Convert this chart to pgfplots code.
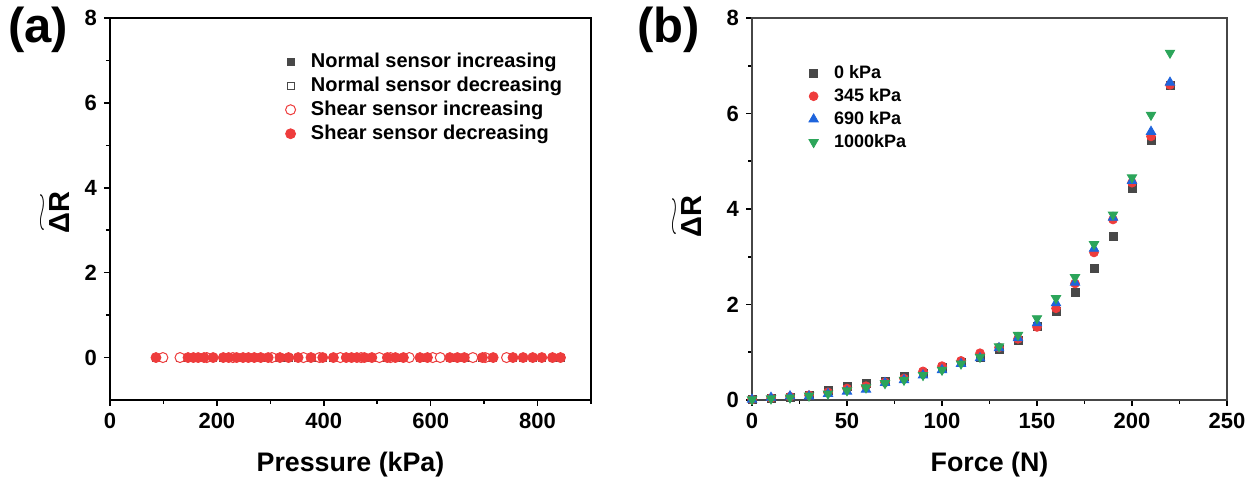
\documentclass[border=0pt]{standalone}
\usepackage{fontspec}
\setmainfont{Liberation Sans}
\usepackage{graphicx}
\usepackage{pgfplots}
\pgfplotsset{compat=1.18}
\definecolor{cgray}{RGB}{72,72,72}
\definecolor{cred}{RGB}{238,60,60}
\definecolor{cblue}{RGB}{30,100,220}
\definecolor{cgreen}{RGB}{44,165,90}
\definecolor{caxis}{RGB}{70,70,70}
\newbox\dRbox
\newdimen\dRwd
\newcommand{\dR}{\setbox\dRbox\hbox{ΔR}\dRwd=\wd\dRbox\vbox{\offinterlineskip\hbox to \dRwd{\resizebox{\dRwd}{3pt}{$\sim$}}\kern1.5pt\box\dRbox}}
\pgfplotsset{
  myaxis/.style={
    scale only axis, width=240.5pt, height=191pt,
    axis line style={line width=0.8pt},
    tick align=outside, xtick pos=bottom, ytick pos=left,
    major tick length=3pt, minor tick length=2pt,
    every tick/.style={line width=0.8pt},
    tick label style={font=\bfseries\fontsize{11}{13}\selectfont},
    /pgf/number format/assume math mode=true,
    label style={font=\bfseries\fontsize{13.4}{15}\selectfont},
    xlabel style={at={(axis description cs:0.5,0)}, anchor=center, yshift=-32.5pt},
    legend image code/.code={\path (-5pt,0pt) (5pt,0pt); \draw[##1] plot coordinates {(0pt,0pt)};},
    legend cell align=left,
  }
}
\begin{document}
\begin{tikzpicture}
\path[use as bounding box] (-55pt,-41pt) rectangle (572.5pt,200pt);
\begin{axis}[myaxis, at={(0pt,0pt)}, anchor=south west,
  xmin=0, xmax=900, ymin=-1, ymax=8,
  xtick={0,200,...,800}, minor xtick={100,300,...,900},
  ytick={0,2,...,8}, minor ytick={1,3,5,7},
  xlabel={Pressure (kPa)},
  ylabel={\dR},
  ylabel style={at={(axis description cs:-0.114,0.49)}, anchor=center, font=\bfseries\fontsize{14.5}{17}\selectfont},
  legend style={at={(axis description cs:0.353,0.914)}, anchor=north west, draw=none, fill=none, inner sep=0pt,
    font=\bfseries\fontsize{10}{12}\selectfont,
    nodes={inner sep=0pt, text height=8pt, text depth=2.5pt}, row sep=1.5pt, column sep=5pt},
]
\addplot[only marks, mark=square*, mark size=1.8pt, color=cgray] coordinates {
(99,0)(131,0)(181,0)(230,0)(303,0)(362,0)(392,0)(431,0)(470,0)(504,0)(525,0)(560,0)(604,0)(618,0)(679,0)(702,0)(742,0)};
\addlegendentry{Normal sensor increasing}
\addplot[only marks, mark=square, mark size=1.8pt, color=cgray, mark options={fill=white}] coordinates {
(86,0)(146,0)(156,0)(165,0)(176,0)(193,0)(212,0)(222,0)(237,0)(249,0)(259,0)(270,0)(282,0)(296,0)(318,0)(334,0)(352,0)(376,0)(398,0)(418,0)(442,0)(452,0)(462,0)(476,0)(490,0)(519,0)(534,0)(549,0)(580,0)(594,0)(636,0)(650,0)(663,0)(697,0)(717,0)(754,0)(773,0)(791,0)(808,0)(828,0)(843,0)};
\addlegendentry{Normal sensor decreasing}
\addplot[only marks, mark=*, mark size=2.5pt, color=cred, mark options={fill=white, line width=0.5pt}] coordinates {
(99,0)(131,0)(181,0)(230,0)(303,0)(362,0)(392,0)(431,0)(470,0)(504,0)(525,0)(560,0)(604,0)(618,0)(679,0)(702,0)(742,0)};
\addlegendentry{Shear sensor increasing}
\addplot[only marks, mark=*, mark size=2.5pt, color=cred] coordinates {
(86,0)(146,0)(156,0)(165,0)(176,0)(193,0)(212,0)(222,0)(237,0)(249,0)(259,0)(270,0)(282,0)(296,0)(318,0)(334,0)(352,0)(376,0)(398,0)(418,0)(442,0)(452,0)(462,0)(476,0)(490,0)(519,0)(534,0)(549,0)(580,0)(594,0)(636,0)(650,0)(663,0)(697,0)(717,0)(754,0)(773,0)(791,0)(808,0)(828,0)(843,0)};
\addlegendentry{Shear sensor decreasing}
\end{axis}

\begin{axis}[myaxis, width=237.5pt, at={(321pt,0pt)}, anchor=south west,
  axis line style={caxis},
  xmin=0, xmax=250, ymin=0, ymax=8,
  xtick={0,50,...,250}, minor xtick={25,75,...,225},
  ytick={0,2,...,8}, minor ytick={1,3,5,7},
  xlabel={Force (N)},
  ylabel={\dR},
  ylabel style={at={(axis description cs:-0.137,0.48)}, anchor=center, font=\bfseries\fontsize{14.5}{17}\selectfont},
  legend style={at={(axis description cs:0.107,0.880)}, anchor=north west, draw=none, fill=none, inner sep=0pt,
    font=\bfseries\fontsize{9}{11}\selectfont,
    nodes={inner sep=0pt, text height=7pt, text depth=2pt}, row sep=2.5pt, column sep=5pt},
]
\addplot[only marks, mark=square*, mark size=2pt, color=cgray] coordinates {
(0,0.01)(10,0.04)(20,0.06)(30,0.10)(40,0.20)(50,0.28)(60,0.34)(70,0.40)(80,0.49)(90,0.56)(100,0.68)(110,0.78)(120,0.90)(130,1.05)(140,1.24)(150,1.55)(160,1.86)(170,2.26)(180,2.76)(190,3.42)(200,4.44)(210,5.43)(220,6.58)};
\addlegendentry{0 kPa}
\addplot[only marks, mark=*, mark size=2.2pt, color=cred] coordinates {
(0,0.01)(10,0.04)(20,0.07)(30,0.10)(40,0.16)(50,0.24)(60,0.29)(70,0.37)(80,0.45)(90,0.60)(100,0.71)(110,0.82)(120,0.98)(130,1.10)(140,1.28)(150,1.53)(160,1.92)(170,2.44)(180,3.09)(190,3.78)(200,4.55)(210,5.52)(220,6.60)};
\addlegendentry{345 kPa}
\addplot[only marks, mark=triangle*, mark size=2.7pt, color=cblue] coordinates {
(0,0.01)(10,0.05)(20,0.08)(30,0.08)(40,0.13)(50,0.18)(60,0.22)(70,0.36)(80,0.42)(90,0.52)(100,0.63)(110,0.76)(120,0.88)(130,1.09)(140,1.30)(150,1.61)(160,2.03)(170,2.46)(180,3.17)(190,3.82)(200,4.59)(210,5.62)(220,6.65)};
\addlegendentry{690 kPa}
\addplot[only marks, mark=triangle*, mark size=2.7pt, color=cgreen, mark options={rotate=180}] coordinates {
(0,0.01)(10,0.03)(20,0.05)(30,0.09)(40,0.13)(50,0.20)(60,0.26)(70,0.35)(80,0.42)(90,0.52)(100,0.63)(110,0.76)(120,0.90)(130,1.12)(140,1.36)(150,1.71)(160,2.13)(170,2.57)(180,3.26)(190,3.88)(200,4.66)(210,5.97)(220,7.27)};
\addlegendentry{1000kPa}
\end{axis}
\node[anchor=west, font=\bfseries\fontsize{24.5}{28}\selectfont, inner sep=0pt] at (-51pt,185pt) {(a)};
\node[anchor=west, font=\bfseries\fontsize{24.5}{28}\selectfont, inner sep=0pt] at (263.5pt,185pt) {(b)};
\end{tikzpicture}
\end{document}
